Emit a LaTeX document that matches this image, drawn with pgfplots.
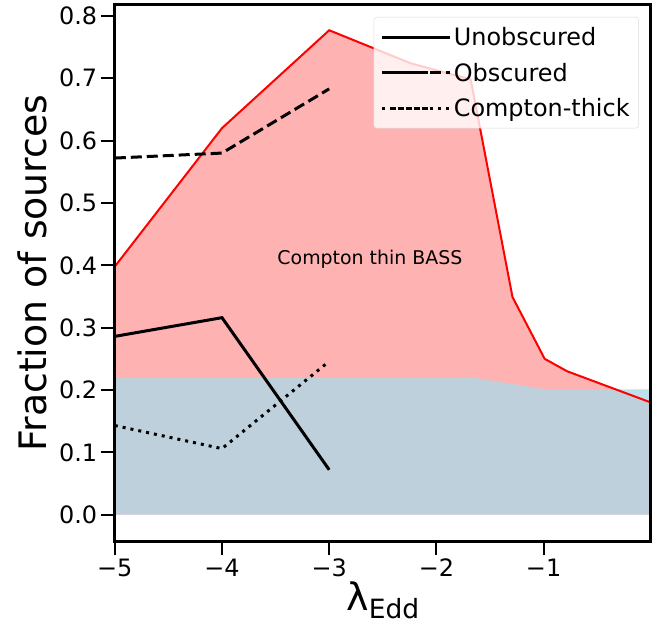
\documentclass[border=0pt]{standalone}
\usepackage{pgfplots}
\pgfplotsset{compat=1.18}
\usepackage{fontspec}
\setmainfont{DejaVu Sans}
\definecolor{redfill}{RGB}{255,178,178}
\definecolor{lblue}{RGB}{173,216,230}
\begin{document}
\begin{tikzpicture}
\useasboundingbox (-114.8bp,-86bp) rectangle (553.2bp,541bp);
\begin{axis}[
  at={(0,0)}, anchor=south west,
  scale only axis, width=536bp, height=536bp,
  xmin=-5, xmax=0, ymin=-0.0422, ymax=0.8175,
  xtick={-5,-4,-3,-2,-1}, xticklabels={−5,−4,−3,−2,−1},
  ytick={0,0.1,0.2,0.3,0.4,0.5,0.6,0.7,0.8},
  yticklabels={0.0,0.1,0.2,0.3,0.4,0.5,0.6,0.7,0.8},
  tick pos=left, tick align=outside, major tick length=14bp,
  tick style={line width=2bp, black},
  axis line style={line width=3bp},
  axis on top,
  ticklabel style={font=\fontsize{24}{24}\selectfont, inner sep=0bp},
  yticklabel style={xshift=-3.5bp},
  xticklabel style={yshift=-4bp},
  ylabel={Fraction of sources},
  ylabel style={at={(axis description cs:-0.128,0.5)}, anchor=base, font=\fontsize{38}{38}\selectfont},
  xlabel={λ\raisebox{-8bp}{\fontsize{26.6}{26.6}\selectfont Edd}},
  xlabel style={at={(axis description cs:0.5,-0.129)}, anchor=base, font=\fontsize{38}{38}\selectfont},
  legend style={at={(1,1)}, anchor=north east, xshift=-12bp, yshift=-12bp,
    draw=black!15, rounded corners=3bp, fill=white, fill opacity=0.8, text opacity=1,
    font=\fontsize{24}{24}\selectfont, inner xsep=7bp, inner ysep=8bp, row sep=12bp,
    nodes={inner sep=2bp}},
  legend cell align=left,
  legend image code/.code={\draw[#1] (0bp,0bp) -- (35bp,0bp); \path (-11bp,0bp) -- (57bp,0bp);},
]
\addplot[draw=none, fill=redfill, forget plot] coordinates {
  (-5,0) (-5,0.398) (-4,0.62) (-3,0.777) (-2.24,0.724) (-1.68,0.698)
  (-1.29,0.349) (-0.99,0.25) (-0.78,0.23) (0,0.18) (0,0)};
\addplot[draw=none, fill=lblue, fill opacity=0.8, forget plot] coordinates {
  (-5,0) (-5,0.2204) (-1.68,0.2204) (-0.98,0.201) (0,0.201) (0,0)};
\addplot[red, line width=2bp, forget plot] coordinates {
  (-5,0.398) (-4,0.62) (-3,0.777) (-2.24,0.724) (-1.68,0.698)
  (-1.29,0.349) (-0.99,0.25) (-0.78,0.23) (0,0.18)};
\node[font=\fontsize{19}{19}\selectfont] at (axis cs:-2.62,0.41) {Compton thin BASS};
\addplot[black, line width=3bp] coordinates {(-5,0.286) (-4,0.316) (-3,0.072)};
\addlegendentry{Unobscured}
\addplot[black, line width=3bp, dash pattern=on 11bp off 5bp] coordinates {(-5,0.572) (-4,0.58) (-3,0.683)};
\addlegendentry{Obscured}
\addplot[black, line width=3bp, dash pattern=on 3bp off 5bp] coordinates {(-5,0.143) (-4,0.106) (-3,0.246)};
\addlegendentry{Compton-thick}
\end{axis}
\end{tikzpicture}
\end{document}
